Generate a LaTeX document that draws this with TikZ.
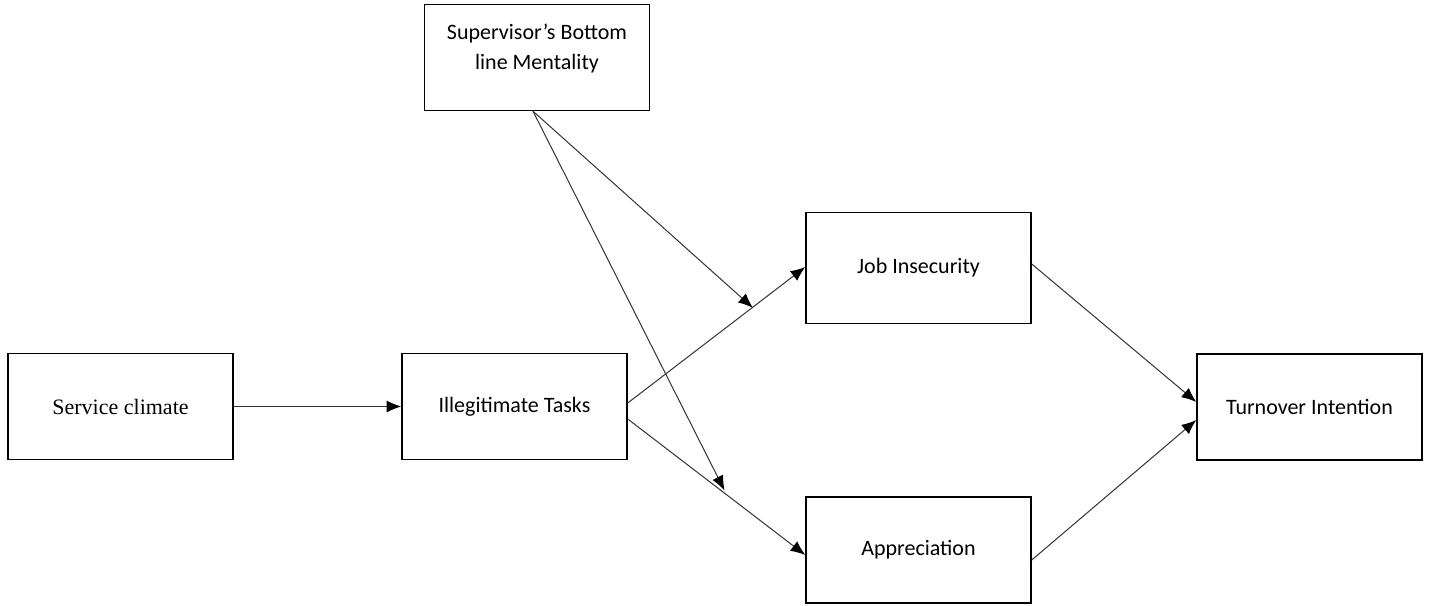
\documentclass[tikz,border=0pt]{standalone}
\usepackage{fontspec}
\setmainfont{Carlito}
\newfontfamily\timesfont{Liberation Serif}
\usetikzlibrary{arrows.meta,calc}

\begin{document}
\begin{tikzpicture}[x=0.75pt, y=-0.75pt,
    box/.style={draw, line width=1.1pt, minimum width=168.75pt, minimum height=79.5pt,
        align=center, font=\fontsize{16.5}{22.5}\selectfont},
    path/.style={draw=black!80, line width=0.75pt, -{Latex[length=11pt, width=9pt, black]}}]
%\draw [help lines] (0,0) grid [step=50] (1432,606);
    \useasboundingbox (0,0) rectangle (1432,606);
    \node [box, font=\timesfont\fontsize{16.5}{22.5}\selectfont] (sc) at (120.5, 406.5) {Service climate};
    \node [box] (it) at (514.5, 406.5) {Illegitimate Tasks};
    \node [box, text depth=16pt] (sbm) at (537, 57.5) {Supervisor’s Bottom\\line Mentality};
    \node [box, minimum height=83.25pt] (ji) at (918.5, 268) {Job Insecurity};
    \node [box] (ap) at (918.5, 550) {Appreciation};
    \node [box] (ti) at (1309.5, 407) {Turnover Intention};

    \coordinate (itup) at ($(it.east)+(0,-3.5)$);
    \coordinate (itdown) at ($(it.east)+(0,12.5)$);
    \coordinate (sbmout) at ($(sbm.south)+(-4,0)$);

    \draw [path] (sc) -- (it);
    \draw [path] (itup) -- ($(ji.west)+(0,-1)$);
    \draw [path] (itdown) -- ($(ap.west)+(0,5)$);
    \draw [path] ($(ji.east)+(0,-4)$) -- ($(ti.west)+(0,-5)$);
    \draw [path] ($(ap.east)+(0,10)$) -- ($(ti.west)+(0,13)$);

    \coordinate (m1) at ($(itup)!0.705!(ji.west)$);
    \coordinate (m2) at ($(itdown)!0.545!(ap.west)$);
    \draw [path] (sbmout) -- (m1);
    \draw [path] (sbmout) -- (m2);
\end{tikzpicture}
\end{document}
